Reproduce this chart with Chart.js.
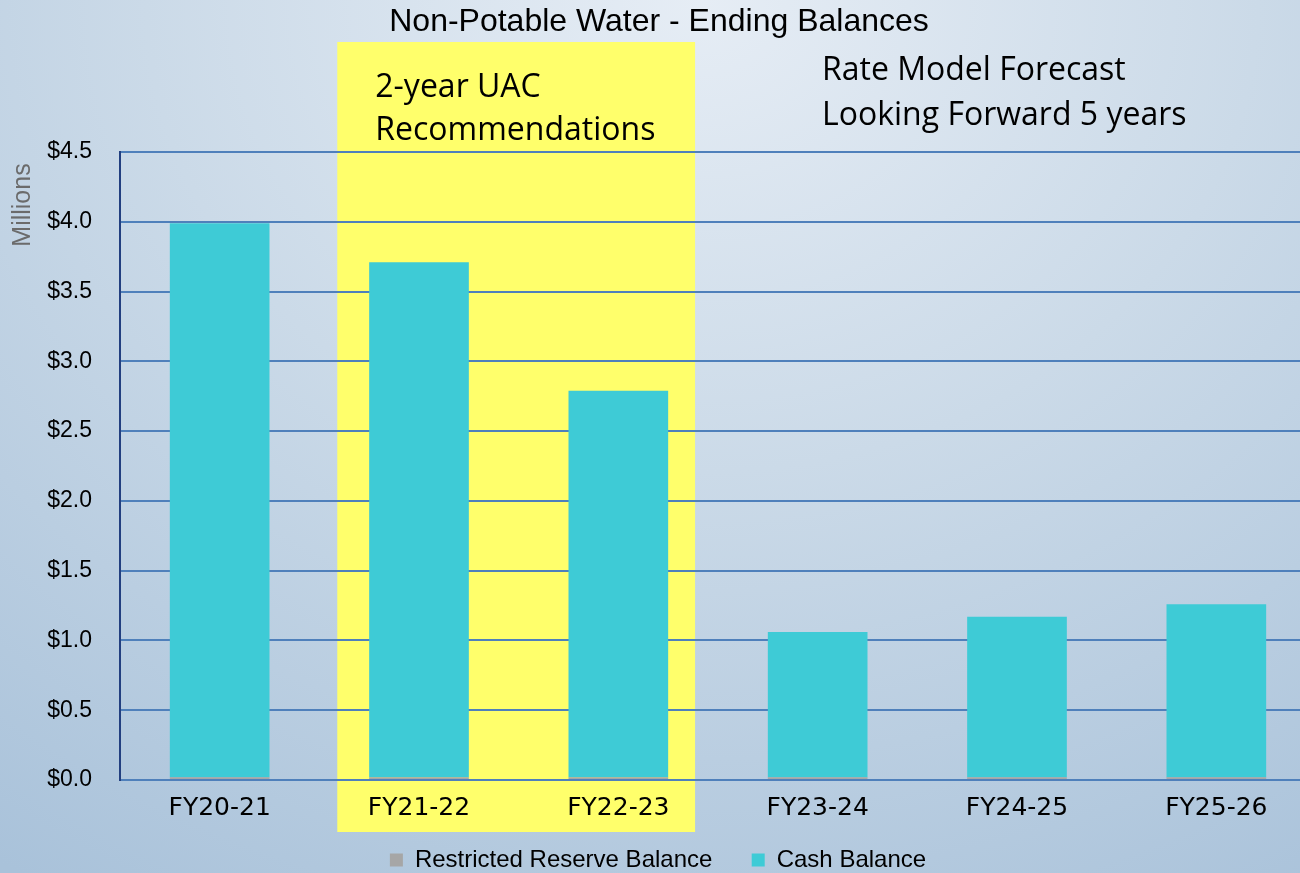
<!DOCTYPE html>
<html>
<head>
<meta charset="utf-8">
<script src="https://cdn.jsdelivr.net/npm/chart.js@4.4.1/dist/chart.umd.min.js"></script>
<style>
  html, body { margin: 0; padding: 0; }
  body {
    width: 1300px; height: 873px; overflow: hidden;
    background: radial-gradient(ellipse 95% 120% at 54% 0%, #e6edf5 0%, #cbdae8 45%, #a9c2da 100%);
  }
  canvas { display: block; }
</style>
</head>
<body>
<canvas id="balanceChart" width="1316" height="873"></canvas>
<script>
// données (en millions)
const categories = ["FY20-21", "FY21-22", "FY22-23", "FY23-24", "FY24-25", "FY25-26"];
const restrictedReserve = [0.02, 0.02, 0.02, 0.02, 0.02, 0.02];
const cashBalance = [3.97, 3.69, 2.77, 1.04, 1.15, 1.24];
const yTicks = [0, 0.5, 1.0, 1.5, 2.0, 2.5, 3.0, 3.5, 4.0, 4.5];
const highlightCats = ["FY21-22", "FY22-23"]; // zone jaune "2-year UAC"

// plugin pour le fond jaune + les textes
const overlayPlugin = {
    id: "overlay",
    beforeDraw(chart) {
        const { ctx, chartArea, scales } = chart;
        const x = scales.x;
        const step = x.getPixelForValue(1) - x.getPixelForValue(0);
        const left = x.getPixelForValue(categories.indexOf(highlightCats[0])) - 0.41 * step;
        const right = x.getPixelForValue(categories.indexOf(highlightCats[1])) + 0.385 * step;
        ctx.save();
        ctx.fillStyle = "#ffff6b";
        ctx.fillRect(left, chartArea.top - 110, right - left, chartArea.bottom - chartArea.top + 162);
        ctx.restore();
    },
    afterDraw(chart) {
        const { ctx, chartArea, scales } = chart;
        const x = scales.x;
        const step = x.getPixelForValue(1) - x.getPixelForValue(0);
        ctx.save();
        ctx.fillStyle = "#000";
        ctx.textBaseline = "middle";

        // titre
        ctx.font = "32px 'Liberation Sans', Arial, sans-serif";
        ctx.textAlign = "center";
        ctx.fillText("Non-Potable Water - Ending Balances", 659, 22);

        // texte dans la zone jaune
        ctx.textAlign = "left";
        ctx.font = "32px 'Open Sans', sans-serif";
        const hx = x.getPixelForValue(1) - 0.41 * step + 38;
        ctx.fillText("2-year UAC", hx, chartArea.top - 64);
        ctx.fillText("Recommendations", hx, chartArea.top - 21);

        // prévision
        ctx.fillText("Rate Model Forecast", 822, chartArea.top - 81);
        ctx.fillText("Looking Forward 5 years", 822, chartArea.top - 36);

        // titre de l'axe y
        ctx.fillStyle = "#6b6b6b";
        ctx.font = "25px 'Liberation Sans', Arial, sans-serif";
        ctx.textAlign = "center";
        ctx.translate(23, 205);
        ctx.rotate(-Math.PI / 2);
        ctx.fillText("Millions", 0, 0);
        ctx.restore();
    }
};

document.addEventListener("DOMContentLoaded", () => {
    const canvas = document.getElementById("balanceChart");
    new Chart(canvas, {
        type: "bar",
        data: {
            labels: categories,
            datasets: [
                {
                    // espaces en fin de libellé pour écarter les deux entrées de la légende
                    label: "Restricted Reserve Balance     ",
                    data: restrictedReserve,
                    backgroundColor: "#a6a6a6",
                    barPercentage: 0.5,
                    categoryPercentage: 1.0
                },
                {
                    label: "Cash Balance",
                    data: cashBalance,
                    backgroundColor: "#3ecbd6",
                    barPercentage: 0.5,
                    categoryPercentage: 1.0
                }
            ]
        },
        options: {
            responsive: false,
            animation: false,
            layout: { padding: { top: 152, right: 0, left: 0, bottom: 0 } },
            plugins: {
                title: { display: false },
                tooltip: { enabled: false },
                legend: {
                    position: "bottom",
                    maxHeight: 31,
                    labels: {
                        font: { size: 24, family: "'Liberation Sans', Arial, sans-serif" },
                        color: "#000",
                        boxWidth: 13,
                        boxHeight: 13,
                        padding: 6
                    }
                }
            },
            scales: {
                x: {
                    stacked: true,
                    grid: { display: false, drawTicks: false },
                    border: { display: false },
                    ticks: {
                        color: "#000",
                        padding: 13,
                        font: { size: 25, family: "'DejaVu Sans', sans-serif" }
                    },
                    afterFit: (scale) => { scale.height = 873 - 780 - scale.chart.legend.height; }
                },
                y: {
                    stacked: true,
                    min: 0,
                    max: yTicks[yTicks.length - 1],
                    afterBuildTicks: (scale) => { scale.ticks = yTicks.map(v => ({ value: v })); },
                    grid: { color: "#4f80bb", lineWidth: 2, drawTicks: false },
                    border: { display: true, color: "#223f80", width: 2 },
                    ticks: {
                        color: "#000",
                        padding: 28,
                        font: { size: 23, family: "'Liberation Sans', Arial, sans-serif" },
                        callback: (v) => "$" + Number(v).toFixed(1)
                    },
                    afterFit: (scale) => { scale.width = 120; }
                }
            }
        },
        plugins: [overlayPlugin]
    });
});
</script>
</body>
</html>
